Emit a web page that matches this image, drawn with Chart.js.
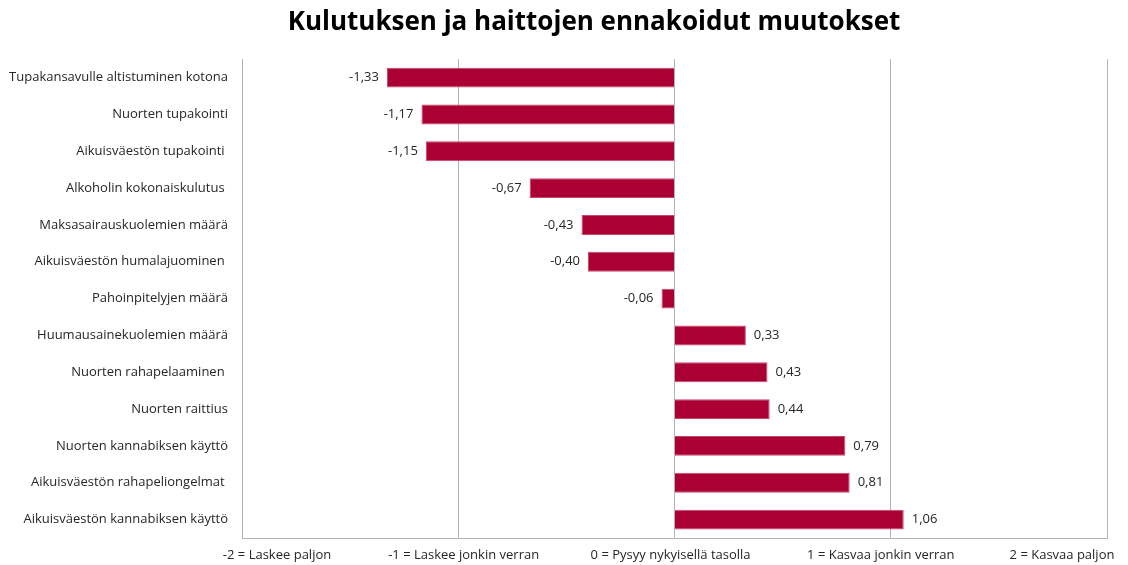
<!DOCTYPE html>
<html>
<head>
<meta charset="utf-8">
<script src="https://cdn.jsdelivr.net/npm/chart.js@4.4.1/dist/chart.umd.min.js"></script>
<style>
  html, body { margin: 0; padding: 0; background: #ffffff; }
  #wrap { width: 1128px; height: 565px; position: relative; }
</style>
</head>
<body>
<div id="wrap"><canvas id="c" width="1128" height="565"></canvas></div>
<script>
const chartTitle = "Kulutuksen ja haittojen ennakoidut muutokset";
const categories = [
  "Tupakansavulle altistuminen kotona",
  "Nuorten tupakointi",
  "Aikuisväestön tupakointi ",
  "Alkoholin kokonaiskulutus ",
  "Maksasairauskuolemien määrä",
  "Aikuisväestön humalajuominen ",
  "Pahoinpitelyjen määrä",
  "Huumausainekuolemien määrä",
  "Nuorten rahapelaaminen ",
  "Nuorten raittius",
  "Nuorten kannabiksen käyttö",
  "Aikuisväestön rahapeliongelmat ",
  "Aikuisväestön kannabiksen käyttö"
];
const changeValues = [-1.33, -1.17, -1.15, -0.67, -0.43, -0.40, -0.06, 0.33, 0.43, 0.44, 0.79, 0.81, 1.06];
const tickValues = [-2, -1, 0, 1, 2];
const tickLabels = [
  "-2 = Laskee paljon",
  "-1 = Laskee jonkin verran",
  "0 = Pysyy nykyisellä tasolla",
  "1 = Kasvaa jonkin verran",
  "2 = Kasvaa paljon"
];

const FONT = "'Open Sans', Lato, sans-serif";
const TEXT = "#262626";
const GRID = "#b3b3b3";
// small horizontal nudges (in axis units) that mimic the reference's label placement
const labelNudge = [0.162, 0.025, -0.018, -0.046, -0.208];

const valueLabels = {
  id: 'valueLabels',
  afterDatasetsDraw(chart) {
    const ctx = chart.ctx;
    const meta = chart.getDatasetMeta(0);
    ctx.save();
    ctx.font = "13px " + FONT;
    ctx.fillStyle = TEXT;
    ctx.textBaseline = 'middle';
    meta.data.forEach((bar, i) => {
      const v = chart.data.datasets[0].data[i];
      const txt = v.toFixed(2).replace('.', ',');
      if (v < 0) { ctx.textAlign = 'right'; ctx.fillText(txt, bar.x - 8, bar.y); }
      else { ctx.textAlign = 'left'; ctx.fillText(txt, bar.x + 8, bar.y); }
    });
    ctx.restore();
  }
};

// shift the library's title box so that its centre matches the reference
const titleShift = {
  id: 'titleShift',
  afterLayout(chart) {
    const t = chart.titleBlock;
    if (t) { t.left = t.left + 81; }
  }
};

new Chart(document.getElementById('c'), {
  type: 'bar',
  data: {
    labels: categories,
    datasets: [{
      data: changeValues,
      backgroundColor: '#ab0033',
      borderColor: '#c4476a',
      borderWidth: 1,
      barPercentage: 0.54,
      categoryPercentage: 1.0
    }]
  },
  options: {
    indexAxis: 'y',
    responsive: false,
    animation: false,
    devicePixelRatio: 1,
    layout: { padding: { left: 0, right: 21, top: 7, bottom: 0 } },
    plugins: {
      legend: { display: false },
      tooltip: { enabled: false },
      title: {
        display: true,
        text: chartTitle,
        color: '#000000',
        font: { family: FONT, size: 26, weight: 'bold', lineHeight: 1.2 },
        padding: { top: 0, bottom: 21 }
      }
    },
    scales: {
      x: {
        type: 'linear',
        min: -2, max: 2,
        position: 'bottom',
        afterBuildTicks: s => { s.ticks = tickValues.map(v => ({ value: v })); },
        afterFit: s => { s.height = 0; },
        ticks: { display: false },
        grid: { color: GRID, drawTicks: false, lineWidth: 1 },
        border: { display: true, color: GRID }
      },
      x2: {
        type: 'linear',
        min: -2, max: 2,
        position: 'bottom',
        afterBuildTicks: s => { s.ticks = tickValues.map((v, i) => ({ value: v + labelNudge[i] })); },
        afterFit: s => { s.height = 27; },
        ticks: {
          autoSkip: false, maxRotation: 0, padding: 9,
          color: TEXT, font: { family: FONT, size: 13 },
          callback: (v, i) => tickLabels[i]
        },
        grid: { display: false, drawTicks: false },
        border: { display: false }
      },
      y: {
        type: 'category',
        afterFit: s => { s.width = 242; },
        ticks: { color: TEXT, font: { family: FONT, size: 13 }, padding: 14, autoSkip: false },
        grid: { display: false, drawTicks: false },
        border: { display: true, color: GRID }
      }
    }
  },
  plugins: [valueLabels, titleShift]
});
</script>
</body>
</html>
